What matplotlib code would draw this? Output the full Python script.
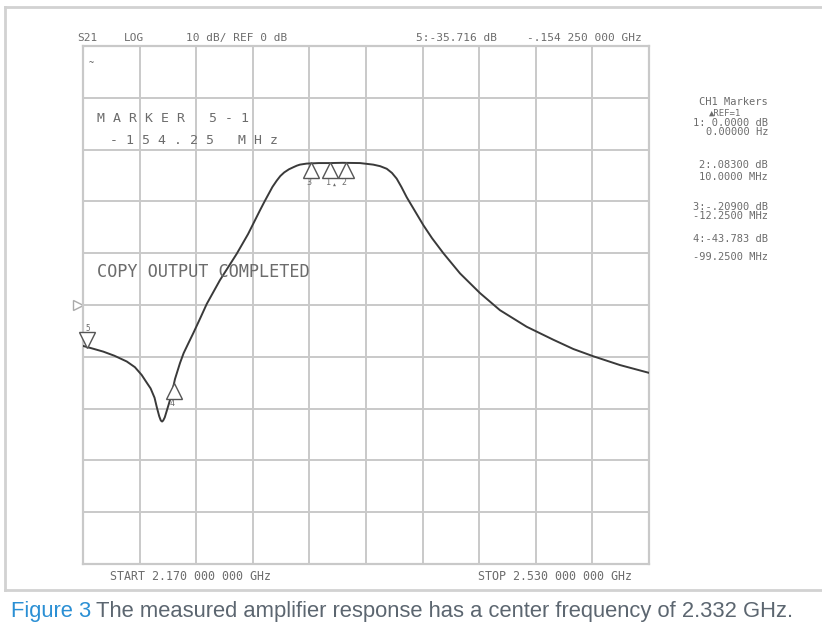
import numpy as np
import matplotlib
matplotlib.use('Agg')
import matplotlib.pyplot as plt
from matplotlib import transforms
from matplotlib.lines import Line2D

# trace (MHz, dB)
freq_mhz = [2170.0, 2176.0, 2182.9, 2190.0, 2197.8, 2203.0, 2207.3, 2211.0,
            2213.0, 2215.5, 2217.0, 2218.5, 2219.5, 2220.3, 2221.0, 2222.0,
            2223.2, 2224.5, 2226.4, 2228.5, 2231.7, 2234.0, 2237.0, 2240.2,
            2244.5, 2248.7, 2257.1, 2267.8, 2275.0, 2282.6, 2285.5, 2288.0,
            2290.5, 2293.2, 2295.5, 2298.0, 2301.0, 2303.8, 2306.0, 2308.0,
            2312.3, 2320.0, 2327.1, 2335.0, 2346.2, 2354.6, 2359.0, 2363.2,
            2366.5, 2369.5, 2372.5, 2375.9, 2381.0, 2386.5, 2392.0, 2399.2,
            2409.8, 2422.5, 2435.2, 2452.2, 2469.1, 2481.9, 2494.6, 2511.6,
            2530.0]
s21_db = [-7.9, -8.4, -9.0, -9.8, -10.9, -12.0, -13.5, -15.2,
          -16.1, -17.9, -19.8, -21.5, -22.3, -22.5, -22.3, -21.7,
          -20.5, -19.2, -17.2, -14.3, -11.2, -9.3, -7.4, -5.4,
          -2.6, 0.2, 4.8, 9.9, 13.7, 18.3, 20.0, 21.4,
          22.8, 24.0, 24.9, 25.6, 26.2, 26.6, 26.9, 27.1,
          27.3, 27.4, 27.4, 27.45, 27.4, 27.1, 26.8, 26.3,
          25.5, 24.4, 22.8, 20.8, 18.2, 15.4, 12.9, 10.0,
          6.1, 2.3, -1.0, -4.2, -6.7, -8.5, -9.9, -11.6,
          -13.1]

start_mhz, stop_mhz = 2170, 2530
ref_db, db_per_div = 0, 10
marker1_mhz = 2327.0
marker_delta_mhz = {'1': 0.0, '2': 10.0, '3': -12.25, '4': -99.25, '5': -154.25}

header = ['S21', 'LOG', '10 dB/ REF 0 dB', '5:-35.716 dB', '-.154 250 000 GHz']
marker_lines = ['CH1 Markers', '\u25b2REF=1', '1: 0.0000 dB', '0.00000 Hz',
                '2:.08300 dB', '10.0000 MHz', '3:-.20900 dB', '-12.2500 MHz',
                '4:-43.783 dB', '-99.2500 MHz']

W, H = 822, 633
grey = '#6c6c6c'
gridc = '#c9c9c9'
mono = ['DejaVu Sans Mono', 'DejaVu Sans']


def fx(x):
    return x / W


def fy(y):
    return 1 - y / H


fig = plt.figure(figsize=(W / 100, H / 100), dpi=100)
ax = fig.add_axes([fx(83), fy(564), 566 / W, 518 / H])

ax.set_xlim(start_mhz, stop_mhz)
ax.set_ylim(ref_db - 5 * db_per_div, ref_db + 5 * db_per_div)
ax.set_xticks(np.linspace(start_mhz, stop_mhz, 11))
ax.set_yticks(np.arange(-50, 51, db_per_div))
ax.tick_params(length=0, labelbottom=False, labelleft=False)
ax.grid(True, color=gridc, lw=1.4)
for s in ax.spines.values():
    s.set_color(gridc)
    s.set_linewidth(1.6)

ax.plot(freq_mhz, s21_db, color='#3a3a3a', lw=1.4, zorder=3)

# markers
down = transforms.offset_copy(ax.transData, fig, y=-7, units='dots')
up = transforms.offset_copy(ax.transData, fig, y=7, units='dots')
for name, d in marker_delta_mhz.items():
    f = marker1_mhz + d
    v = np.interp(f, freq_mhz, s21_db)
    if name == '5':
        ax.plot(f, v, marker='v', ms=11, mfc='white', mec='#555555', mew=1,
                transform=up, clip_on=False, zorder=4)
        ax.text(f, v, name, fontsize=5.5, family=mono, color=grey, ha='center',
                va='bottom', transform=transforms.offset_copy(ax.transData, fig, y=14, units='dots'))
    else:
        ax.plot(f, v, marker='^', ms=11, mfc='white', mec='#555555', mew=1,
                transform=down, clip_on=False, zorder=4)
        lab = transforms.offset_copy(ax.transData, fig, x=-1.5, y=-15, units='dots')
        ax.text(f, v, name, fontsize=6, family=mono, color=grey, ha='center',
                va='top', transform=lab)
        if name == '1':
            tri = transforms.offset_copy(ax.transData, fig, x=5, y=-19, units='dots')
            ax.text(f, v, '\u25b2', fontsize=3.5, family=mono, color=grey,
                    ha='center', va='top', transform=tri)

# reference position arrow
refpos = transforms.offset_copy(ax.get_yaxis_transform(), fig, x=-5, units='dots')
ax.plot(0, ref_db, marker='>', ms=7, mfc='white', mec='#aaaaaa', mew=1,
        transform=refpos, clip_on=False)

# header line
hx = [77, 124, 186, 416]
for s, x in zip(header[:4], hx):
    fig.text(fx(x), fy(38), s, fontsize=8, family=mono, color=grey, va='center')
fig.text(fx(642), fy(38), header[4], fontsize=8, family=mono, color=grey,
         va='center', ha='right')

fig.text(fx(89), fy(63), '~', fontsize=6, family=mono, color='#555555', va='center')

fig.text(fx(97), fy(118), 'M A R K E R   5 - 1', fontsize=9.5, family=mono,
         color=grey, va='center')
fig.text(fx(110), fy(140), '- 1 5 4 . 2 5   M H z', fontsize=9.5, family=mono,
         color=grey, va='center')
fig.text(fx(97), fy(272), 'COPY OUTPUT COMPLETED', fontsize=12.2, family=mono,
         color=grey, va='center')

fig.text(fx(110), fy(576), 'START 2.170 000 000 GHz', fontsize=8.4, family=mono,
         color=grey, va='center')
fig.text(fx(632), fy(576), 'STOP 2.530 000 000 GHz', fontsize=8.4, family=mono,
         color=grey, va='center', ha='right')

# marker table on the right
ys = [102, 113, 123, 132, 165, 177, 207, 216, 239, 257]
for s, y in zip(marker_lines, ys):
    if s.startswith('\u25b2'):
        fig.text(fx(725), fy(y), s, fontsize=6.5, family=mono, color=grey,
                 va='center', ha='center')
    else:
        fig.text(fx(768), fy(y), s, fontsize=7.5, family=mono, color=grey,
                 va='center', ha='right')

# frame around figure + caption separator
boxc = '#d2d2d2'
fig.add_artist(Line2D([fx(5), fx(5)], [fy(7), fy(590)], color=boxc, lw=2))
fig.add_artist(Line2D([fx(5), fx(822)], [fy(7), fy(7)], color=boxc, lw=2))
fig.add_artist(Line2D([fx(5), fx(822)], [fy(590), fy(590)], color=boxc, lw=2))

cap = ['Liberation Sans', 'DejaVu Sans']
t1 = fig.text(fx(11), fy(612), 'Figure 3', fontsize=15.8, family=cap,
              color='#2a8fd4', va='center')
fig.canvas.draw()
bb = t1.get_window_extent()
fig.text(bb.x1 / W + fx(5), fy(612),
         'The measured amplifier response has a center frequency of 2.332 GHz.',
         fontsize=15.8, family=cap, color='#5c6670', va='center')

fig.savefig('out.png', dpi=100, facecolor='white')
